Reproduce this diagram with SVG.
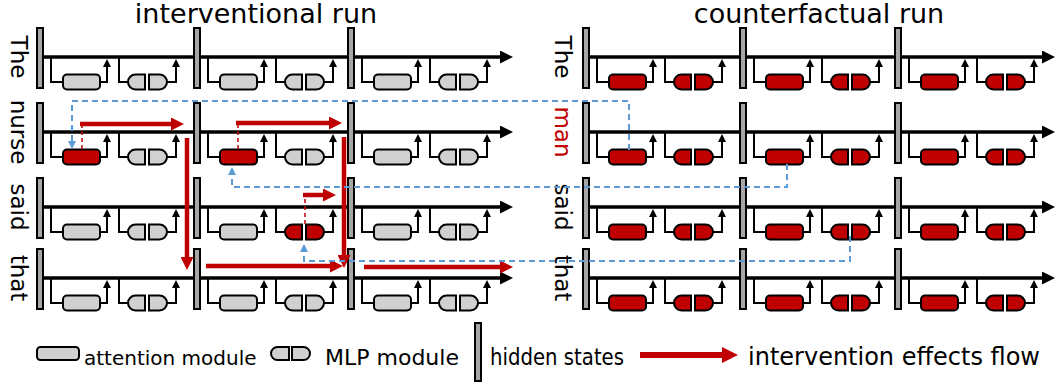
<svg xmlns="http://www.w3.org/2000/svg" xmlns:xlink="http://www.w3.org/1999/xlink" width="1057" height="385" viewBox="0 0 1057 385">
<style>
text{font-family:"DejaVu Sans",sans-serif;fill:#000}
.g{fill:#D0D0D0}
.r{fill:#C00000}
.main{fill:none;stroke:#000;stroke-width:3.5}
.wire{fill:none;stroke:#000;stroke-width:2}
.red{fill:none;stroke:#C00000;stroke-width:4.5}
.rdash{fill:none;stroke:#C00000;stroke-width:1.5;stroke-dasharray:4 3}
.blue{fill:none;stroke:#5B9BD5;stroke-width:2;stroke-dasharray:6 4}
.lbl{font-size:23px}
</style>
<defs>
<marker id="mBlk" markerUnits="userSpaceOnUse" markerWidth="14" markerHeight="13" refX="0" refY="6.5" orient="auto"><path d="M0,0 L13,6.5 L0,13 z" fill="#000"/></marker>
<marker id="mOut" markerUnits="userSpaceOnUse" markerWidth="9" markerHeight="8" refX="0" refY="4" orient="auto"><path d="M0,0 L8,4 L0,8 z" fill="#000"/></marker>
<marker id="mRed" markerUnits="userSpaceOnUse" markerWidth="14" markerHeight="13" refX="0" refY="6.5" orient="auto"><path d="M0,0 L13,6.5 L0,13 z" fill="#C00000"/></marker>
<marker id="mBlue" markerUnits="userSpaceOnUse" markerWidth="9" markerHeight="8" refX="0" refY="4" orient="auto"><path d="M0,0 L8,4 L0,8 z" fill="#5B9BD5"/></marker>
<rect id="bar" x="1" y="-29" width="6" height="60" fill="#A6A6A6" stroke="#000" stroke-width="2"/>
<rect id="att" x="27" y="17.5" width="37" height="15" rx="4" stroke="#000" stroke-width="2"/>
<g id="mlp" stroke="#000" stroke-width="2"><path d="M109,17.5 H99.5 A7.5,7.5 0 0 0 99.5,32.5 H109 Z"/><path d="M113,17.5 H123.5 A7.5,7.5 0 0 1 123.5,32.5 H113 Z"/></g>
<g id="wires" class="wire">
<path d="M15,0 V25 H27"/>
<path d="M64,25 H71 V10" marker-end="url(#mOut)"/>
<path d="M83,0 V25 H92"/>
<path d="M131,25 H140 V10" marker-end="url(#mOut)"/>
</g>
</defs>
<rect width="1057" height="385" fill="#fff"/>

<text x="256" y="23" font-size="27" text-anchor="middle">interventional run</text>
<text x="819" y="23" font-size="27" text-anchor="middle">counterfactual run</text>

<g id="row-labels" class="lbl">
<text transform="translate(11,57) rotate(90)" text-anchor="middle">The</text>
<text transform="translate(11,132) rotate(90)" text-anchor="middle">nurse</text>
<text transform="translate(11,207) rotate(90)" text-anchor="middle">said</text>
<text transform="translate(11,278) rotate(90)" text-anchor="middle">that</text>
<text transform="translate(555,57) rotate(90)" text-anchor="middle">The</text>
<text transform="translate(555,132) rotate(90)" text-anchor="middle" style="fill:#C00000">man</text>
<text transform="translate(555,207) rotate(90)" text-anchor="middle">said</text>
<text transform="translate(555,278) rotate(90)" text-anchor="middle">that</text>
</g>

<g id="streams">
<path class="main" d="M40,57 H500" marker-end="url(#mBlk)"/>
<path class="main" d="M40,132 H500" marker-end="url(#mBlk)"/>
<path class="main" d="M40,207 H500" marker-end="url(#mBlk)"/>
<path class="main" d="M40,278 H500" marker-end="url(#mBlk)"/>
<path class="main" d="M586,57 H1042" marker-end="url(#mBlk)"/>
<path class="main" d="M586,132 H1042" marker-end="url(#mBlk)"/>
<path class="main" d="M586,207 H1042" marker-end="url(#mBlk)"/>
<path class="main" d="M586,278 H1042" marker-end="url(#mBlk)"/>
</g>

<g id="connectors">
<use href="#wires" x="36" y="57"/><use href="#wires" x="193" y="57"/><use href="#wires" x="347" y="57"/>
<use href="#wires" x="36" y="132"/><use href="#wires" x="193" y="132"/><use href="#wires" x="347" y="132"/>
<use href="#wires" x="36" y="207"/><use href="#wires" x="193" y="207"/><use href="#wires" x="347" y="207"/>
<use href="#wires" x="36" y="278"/><use href="#wires" x="193" y="278"/><use href="#wires" x="347" y="278"/>
<use href="#wires" x="582" y="57"/><use href="#wires" x="739" y="57"/><use href="#wires" x="894" y="57"/>
<use href="#wires" x="582" y="132"/><use href="#wires" x="739" y="132"/><use href="#wires" x="894" y="132"/>
<use href="#wires" x="582" y="207"/><use href="#wires" x="739" y="207"/><use href="#wires" x="894" y="207"/>
<use href="#wires" x="582" y="278"/><use href="#wires" x="739" y="278"/><use href="#wires" x="894" y="278"/>
</g>

<g id="nodes-left">
<g id="L1-h1"><use href="#bar" x="36" y="57"/></g><g id="L1-h2"><use href="#bar" x="193" y="57"/></g><g id="L1-h3"><use href="#bar" x="347" y="57"/></g>
<g id="L2-h1"><use href="#bar" x="36" y="132"/></g><g id="L2-h2"><use href="#bar" x="193" y="132"/></g><g id="L2-h3"><use href="#bar" x="347" y="132"/></g>
<g id="L3-h1"><use href="#bar" x="36" y="207"/></g><g id="L3-h2"><use href="#bar" x="193" y="207"/></g><g id="L3-h3"><use href="#bar" x="347" y="207"/></g>
<g id="L4-h1"><use href="#bar" x="36" y="278"/></g><g id="L4-h2"><use href="#bar" x="193" y="278"/></g><g id="L4-h3"><use href="#bar" x="347" y="278"/></g>
<g id="L1-a1"><use href="#att" class="g" x="36" y="57"/></g><g id="L1-m1"><use href="#mlp" class="g" x="36" y="57"/></g>
<g id="L1-a2"><use href="#att" class="g" x="193" y="57"/></g><g id="L1-m2"><use href="#mlp" class="g" x="193" y="57"/></g>
<g id="L1-a3"><use href="#att" class="g" x="347" y="57"/></g><g id="L1-m3"><use href="#mlp" class="g" x="347" y="57"/></g>
<g id="L2-a1"><use href="#att" class="r" x="36" y="132"/></g><g id="L2-m1"><use href="#mlp" class="g" x="36" y="132"/></g>
<g id="L2-a2"><use href="#att" class="r" x="193" y="132"/></g><g id="L2-m2"><use href="#mlp" class="g" x="193" y="132"/></g>
<g id="L2-a3"><use href="#att" class="g" x="347" y="132"/></g><g id="L2-m3"><use href="#mlp" class="g" x="347" y="132"/></g>
<g id="L3-a1"><use href="#att" class="g" x="36" y="207"/></g><g id="L3-m1"><use href="#mlp" class="g" x="36" y="207"/></g>
<g id="L3-a2"><use href="#att" class="g" x="193" y="207"/></g><g id="L3-m2"><use href="#mlp" class="r" x="193" y="207"/></g>
<g id="L3-a3"><use href="#att" class="g" x="347" y="207"/></g><g id="L3-m3"><use href="#mlp" class="g" x="347" y="207"/></g>
<g id="L4-a1"><use href="#att" class="g" x="36" y="278"/></g><g id="L4-m1"><use href="#mlp" class="g" x="36" y="278"/></g>
<g id="L4-a2"><use href="#att" class="g" x="193" y="278"/></g><g id="L4-m2"><use href="#mlp" class="g" x="193" y="278"/></g>
<g id="L4-a3"><use href="#att" class="g" x="347" y="278"/></g><g id="L4-m3"><use href="#mlp" class="g" x="347" y="278"/></g>
</g>

<g id="nodes-right">
<g id="R1-h1"><use href="#bar" x="582" y="57"/></g><g id="R1-h2"><use href="#bar" x="739" y="57"/></g><g id="R1-h3"><use href="#bar" x="894" y="57"/></g>
<g id="R2-h1"><use href="#bar" x="582" y="132"/></g><g id="R2-h2"><use href="#bar" x="739" y="132"/></g><g id="R2-h3"><use href="#bar" x="894" y="132"/></g>
<g id="R3-h1"><use href="#bar" x="582" y="207"/></g><g id="R3-h2"><use href="#bar" x="739" y="207"/></g><g id="R3-h3"><use href="#bar" x="894" y="207"/></g>
<g id="R4-h1"><use href="#bar" x="582" y="278"/></g><g id="R4-h2"><use href="#bar" x="739" y="278"/></g><g id="R4-h3"><use href="#bar" x="894" y="278"/></g>
<g id="R1-a1"><use href="#att" class="r" x="582" y="57"/></g><g id="R1-m1"><use href="#mlp" class="r" x="582" y="57"/></g>
<g id="R1-a2"><use href="#att" class="r" x="739" y="57"/></g><g id="R1-m2"><use href="#mlp" class="r" x="739" y="57"/></g>
<g id="R1-a3"><use href="#att" class="r" x="894" y="57"/></g><g id="R1-m3"><use href="#mlp" class="r" x="894" y="57"/></g>
<g id="R2-a1"><use href="#att" class="r" x="582" y="132"/></g><g id="R2-m1"><use href="#mlp" class="r" x="582" y="132"/></g>
<g id="R2-a2"><use href="#att" class="r" x="739" y="132"/></g><g id="R2-m2"><use href="#mlp" class="r" x="739" y="132"/></g>
<g id="R2-a3"><use href="#att" class="r" x="894" y="132"/></g><g id="R2-m3"><use href="#mlp" class="r" x="894" y="132"/></g>
<g id="R3-a1"><use href="#att" class="r" x="582" y="207"/></g><g id="R3-m1"><use href="#mlp" class="r" x="582" y="207"/></g>
<g id="R3-a2"><use href="#att" class="r" x="739" y="207"/></g><g id="R3-m2"><use href="#mlp" class="r" x="739" y="207"/></g>
<g id="R3-a3"><use href="#att" class="r" x="894" y="207"/></g><g id="R3-m3"><use href="#mlp" class="r" x="894" y="207"/></g>
<g id="R4-a1"><use href="#att" class="r" x="582" y="278"/></g><g id="R4-m1"><use href="#mlp" class="r" x="582" y="278"/></g>
<g id="R4-a2"><use href="#att" class="r" x="739" y="278"/></g><g id="R4-m2"><use href="#mlp" class="r" x="739" y="278"/></g>
<g id="R4-a3"><use href="#att" class="r" x="894" y="278"/></g><g id="R4-m3"><use href="#mlp" class="r" x="894" y="278"/></g>
</g>

<g id="flows">
<path class="rdash" d="M82,149 V126"/>
<path class="red" d="M80,124 H171" marker-end="url(#mRed)"/>
<path class="red" d="M187,138 V257" marker-end="url(#mRed)"/>
<path class="rdash" d="M238,149 V125"/>
<path class="red" d="M236,123 H329" marker-end="url(#mRed)"/>
<path class="red" d="M344,137 V255" marker-end="url(#mRed)"/>
<path class="rdash" d="M305,224 V197"/>
<path class="red" d="M303,195 H323" marker-end="url(#mRed)"/>
<path class="red" d="M206,266 H330" marker-end="url(#mRed)"/>
<path class="red" d="M364,267 H500" marker-end="url(#mRed)"/>
<path class="blue" d="M629,150 V101 H72 V141" marker-end="url(#mBlue)"/>
<path class="blue" d="M787,164 V187 H232 V175" marker-end="url(#mBlue)"/>
<path class="blue" d="M850,236 V261 H304 V252" marker-end="url(#mBlue)"/>
</g>

<g id="legend">
<rect x="37" y="347" width="42" height="13" rx="3.5" class="g" stroke="#000" stroke-width="2"/>
<text x="84" y="365" font-size="20">attention module</text>
<g class="g" stroke="#000" stroke-width="2"><path d="M289,347 H277.5 A6.5,6.5 0 0 0 277.5,360 H289 Z"/><path d="M292,347 H303.5 A6.5,6.5 0 0 1 303.5,360 H292 Z"/></g>
<text x="325" y="365" font-size="22">MLP module</text>
<rect x="475" y="323" width="6" height="58" fill="#A6A6A6" stroke="#000" stroke-width="2"/>
<text x="490" y="365" font-size="23" textLength="134" lengthAdjust="spacingAndGlyphs">hidden states</text>
<path d="M640,355 H724" stroke="#C00000" stroke-width="6"/>
<polygon points="722,347 738,355 722,363" fill="#C00000"/>
<text x="748" y="365" font-size="24">intervention effects flow</text>
</g>
</svg>
